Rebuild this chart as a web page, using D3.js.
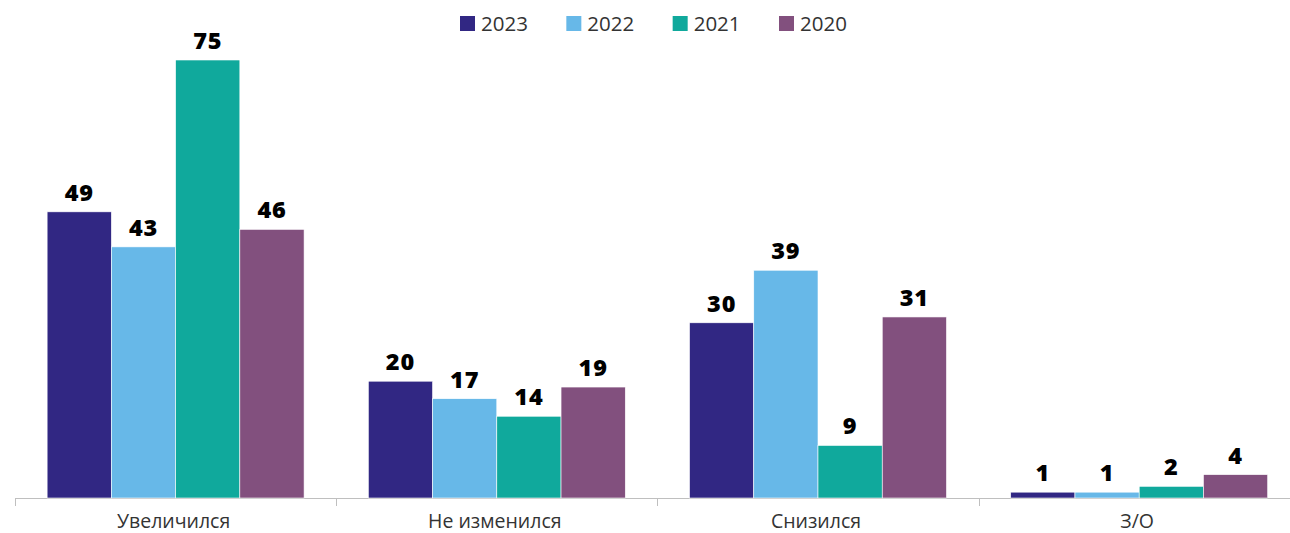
<!DOCTYPE html>
<html><head><meta charset="utf-8">
<script src="https://cdn.jsdelivr.net/npm/d3@7"></script>
<style>body{margin:0;background:#fff;}svg{display:block;font-family:"Open Sans",sans-serif;}</style>
</head><body>
<svg id="c" width="1290" height="533"></svg>
<script>
const categories = ["Увеличился", "Не изменился", "Снизился", "З/О"];
const seriesNames = ["2023", "2022", "2021", "2020"];
const v2023 = [49, 20, 30, 1];
const v2022 = [43, 17, 39, 1];
const v2021 = [75, 14, 9, 2];
const v2020 = [46, 19, 31, 4];
const colors = ["#312783", "#67b8e8", "#10a99c", "#82507e"];

const values = [v2023, v2022, v2021, v2020];
const svg = d3.select("#c");
const y = d3.scaleLinear().domain([0, 75]).range([498, 60]);
const xAxisScale = d3.scaleBand().domain(categories).range([15, 15 + 4 * 321.2]);

// axis
svg.append("line").attr("x1", 15).attr("x2", 1290).attr("y1", 498.5).attr("y2", 498.5).attr("stroke", "#bfbfbf");
const bounds = [0,1,2,3,4].map(i => 15 + i * xAxisScale.step());
svg.selectAll(".tk").data(bounds).enter().append("line")
  .attr("x1", d => Math.round(d) + 0.5).attr("x2", d => Math.round(d) + 0.5)
  .attr("y1", 498).attr("y2", 506).attr("stroke", "#bfbfbf");

categories.forEach((c) => {
  const cx = xAxisScale(c) + xAxisScale.bandwidth() / 2;
  svg.append("text").attr("x", cx - 2).attr("y", 528).attr("text-anchor", "middle")
    .attr("font-size", 19.5).attr("fill", "#333").text(c);
});

// bars
const groupW = xAxisScale.bandwidth() * 0.8;
const sub = d3.scaleBand().domain(seriesNames).range([0, groupW]);
categories.forEach((c, ci) => {
  const gx = xAxisScale(c) + xAxisScale.bandwidth() * 0.1;
  seriesNames.forEach((s, si) => {
    const v = values[si][ci];
    svg.append("rect").attr("x", gx + sub(s)).attr("y", y(v))
      .attr("width", sub.bandwidth()).attr("height", 498 - y(v))
      .attr("fill", colors[si]).attr("stroke", "#fff").attr("stroke-width", 0.6);
    svg.append("text").attr("x", gx + sub(s) + sub.bandwidth() / 2).attr("y", y(v) - 11)
      .attr("text-anchor", "middle").attr("font-size", 23.5).attr("font-weight", 800)
      .attr("letter-spacing", 0.8)
      .attr("fill", "#000").text(v);
  });
});

// legend
const lx = d3.scalePoint().domain(seriesNames).range([460, 779]);
seriesNames.forEach((s, si) => {
  svg.append("rect").attr("x", lx(s)).attr("y", 16).attr("width", 15).attr("height", 15).attr("fill", colors[si]);
  svg.append("text").attr("x", lx(s) + 21).attr("y", 31).attr("font-size", 20.5).attr("fill", "#333").text(s);
});
</script>
</body></html>
